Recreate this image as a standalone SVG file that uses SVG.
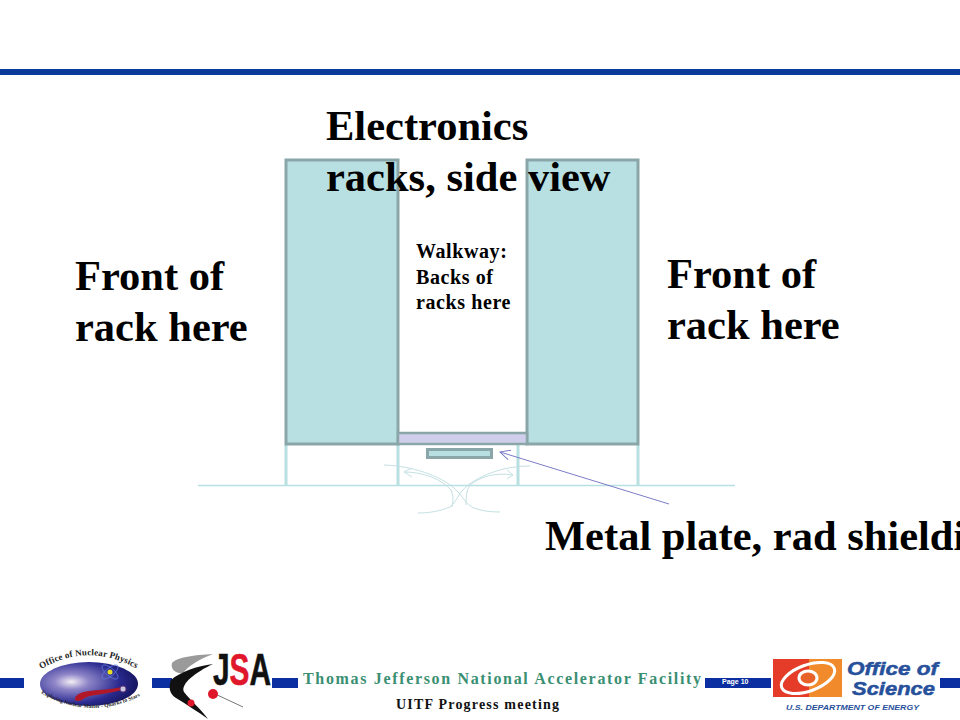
<svg xmlns="http://www.w3.org/2000/svg" width="960" height="720" viewBox="0 0 960 720">
<style>
.big{font:bold 42.500px "Liberation Serif",serif;fill:#000}
.small{font:bold 20px "Liberation Serif",serif;fill:#000;letter-spacing:.6px}
.rack{fill:#b8dfe2;stroke:#8aa6a9;stroke-width:3}
.leg{stroke:#b8dfe2;stroke-width:3;fill:none}
.thin{stroke:#c4e0e3;stroke-width:1;fill:none}
.bar{fill:#0b2fa0}
</style>
<defs>
<marker id="ah" markerWidth="14" markerHeight="12" refX="11" refY="6" orient="auto" markerUnits="userSpaceOnUse"><path d="M1 1L11 6L1 11" fill="none" stroke="#7c7cc8" stroke-width="1"/></marker>
<radialGradient id="np" cx="0.32" cy="0.45" r="0.7"><stop offset="0" stop-color="#f4eef4"/><stop offset="0.25" stop-color="#8f86c8"/><stop offset="0.7" stop-color="#2a2a90"/><stop offset="1" stop-color="#14145c"/></radialGradient>
<path id="npt" d="M41 669Q89 641 139 670"/><path id="npb" d="M41 693Q90 722 142 695"/>
</defs>
<rect width="960" height="720" fill="#fff"/>
<rect id="topbar" x="0" y="69" width="960" height="6" fill="#0a3a9a"/>
<g id="legs">
<path class="leg" d="M286 445V485M398 445V485M518 445V485M638 445V485"/>
<path d="M198 485.500H735" stroke="#b8dfe2" stroke-width="1.500" fill="none"/>
</g>
<g id="fans">
<path class="thin" d="M384 465C413 466 440 476 454 488C463 496 466 505 474 508C482 511 490 512 500 512"/>
<path class="thin" d="M530 466C503 466 482 475 468 485C458 493 456 503 450 507C440 511 430 513 418 513"/>
<path class="thin" d="M404 472C425 472 442 480 451 490C454 496 453 502 452 507M404 472L412 468M404 472L412 477"/>
<path class="thin" d="M513 475C495 472 480 477 470 485C466 491 466 499 466 505M513 475L507 470M513 475L507 479"/>
</g>
<g id="rack-left"><rect class="rack" x="286" y="160" width="112" height="284"/></g>
<g id="rack-right"><rect class="rack" x="527" y="160" width="111" height="284"/></g>
<g id="shelf"><rect x="398" y="433" width="129" height="11" fill="#cfcfec" stroke="#8aa6a9" stroke-width="2.500"/></g>
<g id="plate"><rect x="427.500" y="449.500" width="64" height="8" fill="#b8dfe2" stroke="#8aa6a9" stroke-width="3"/></g>
<g id="connectors"><line x1="669" y1="504" x2="500" y2="452" stroke="#7c7cc8" stroke-width="1" marker-end="url(#ah)"/></g>
<g id="label-racks"><text class="big" x="326" y="140">Electronics</text><text class="big" x="326" y="191">racks, side view</text></g>
<g id="label-front-left"><text class="big" x="75" y="290">Front of</text><text class="big" x="75" y="341">rack here</text></g>
<g id="label-front-right"><text class="big" x="667" y="288">Front of</text><text class="big" x="667" y="339">rack here</text></g>
<g id="label-walkway"><text class="small" x="416" y="258">Walkway:</text><text class="small" x="416" y="284">Backs of</text><text class="small" x="416" y="309">racks here</text></g>
<g id="label-plate"><text class="big" x="545" y="550">Metal plate, rad shielding</text></g>
<g id="footer">
<rect class="bar" x="0" y="678" width="24" height="10"/>
<rect class="bar" x="152" y="678" width="20" height="10"/>
<rect class="bar" x="272" y="678" width="26" height="10"/>
<rect class="bar" x="705" y="678" width="66" height="10"/>
<rect class="bar" x="940" y="678" width="20" height="10"/>
<text x="303" y="684" font-family="'Liberation Serif',serif" font-weight="bold" font-size="16" fill="#3a8f72" textLength="398">Thomas Jefferson National Accelerator Facility</text>
<text x="396" y="709" font-family="'Liberation Serif',serif" font-weight="bold" font-size="14" fill="#111" textLength="163">UITF Progress meeting</text>
<text x="722" y="684" font-family="'Liberation Sans',sans-serif" font-weight="bold" font-size="7" fill="#fff">Page 10</text>
</g>
<g id="logo-np">
<ellipse cx="89" cy="684" rx="49" ry="22" fill="url(#np)"/>
<path d="M75 698C80 688 100 692 122 687L122 690C105 695 88 694 82 700C78 702 74 701 75 698Z" fill="#b01828"/>
<circle cx="123" cy="689" r="3" fill="#c8c8e0" stroke="#704080"/>
<circle cx="110" cy="672" r="2.500" fill="#e8e020"/>
<g fill="none" stroke="#6080e0" stroke-width=".7"><ellipse cx="110" cy="672" rx="10" ry="4" transform="rotate(40 110 672)"/><ellipse cx="110" cy="672" rx="10" ry="4" transform="rotate(-40 110 672)"/></g>
<text font-family="'Liberation Serif',serif" font-weight="bold" font-size="9" fill="#222"><textPath href="#npt" textLength="100">Office of Nuclear Physics</textPath></text>
<text font-family="'Liberation Serif',serif" font-size="5.500" fill="#222" font-weight="bold"><textPath href="#npb" textLength="104">Exploring Nuclear Matter - Quarks to Stars</textPath></text>
</g>
<g id="logo-jsa">
<path d="M213 654C195 655 177 657 172 663C170 670 177 674 183 673C188 666 200 659 213 654Z" fill="#9a9a9a"/>
<path d="M213 664C197 666 180 672 171 680C168 688 170 694 176 698C186 704 198 712 208 719C200 708 190 700 184 692C180 684 196 672 213 664Z" fill="#111"/>
<path d="M213 693L243 707" stroke="#777" stroke-width="1" fill="none"/>
<circle cx="213" cy="694" r="5" fill="#e0162b"/><circle cx="191" cy="703" r="3.500" fill="#e0162b"/>
<text x="213" y="685" font-family="'Liberation Sans',sans-serif" font-weight="bold" font-size="45" fill="#111" stroke="#111" stroke-width=".6" textLength="58" lengthAdjust="spacingAndGlyphs">J<tspan fill="#e0162b" stroke="#e0162b">S</tspan>A</text>
</g>
<g id="logo-science">
<rect x="773" y="659" width="36" height="38" fill="#e43c28"/>
<rect x="809" y="659" width="33" height="38" fill="#f08a2a"/>
<ellipse cx="808" cy="678" rx="28" ry="13" transform="rotate(-20 808 678)" fill="none" stroke="#fff" stroke-width="3"/>
<ellipse cx="808" cy="678" rx="9" ry="7" fill="#e8632a" stroke="#fff" stroke-width="3"/>
<text x="847" y="675" font-family="'Liberation Sans',sans-serif" font-weight="bold" font-style="italic" font-size="19" fill="#27509b" stroke="#27509b" stroke-width=".5" textLength="91" lengthAdjust="spacingAndGlyphs">Office of</text>
<text x="852" y="695" font-family="'Liberation Sans',sans-serif" font-weight="bold" font-style="italic" font-size="19" fill="#27509b" stroke="#27509b" stroke-width=".5" textLength="83" lengthAdjust="spacingAndGlyphs">Science</text>
<text x="786" y="710" font-family="'Liberation Sans',sans-serif" font-weight="bold" font-style="italic" font-size="7" fill="#27509b" textLength="133" lengthAdjust="spacingAndGlyphs">U.S. DEPARTMENT OF ENERGY</text>
</g>
</svg>
